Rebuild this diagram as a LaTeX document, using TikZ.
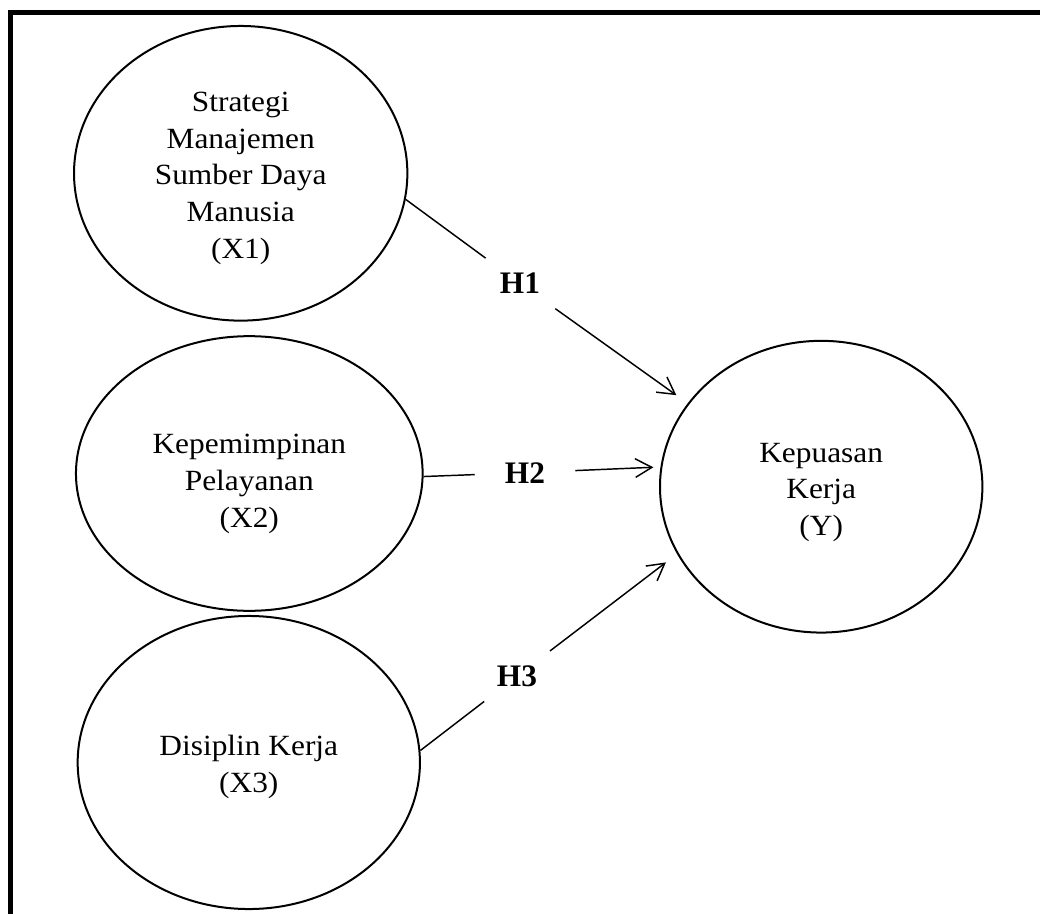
\documentclass[tikz,border=0pt]{standalone}
\usepackage{fontspec}
\setmainfont{Liberation Serif}[FakeStretch=1.07]
\newfontfamily\hypfont{Liberation Serif}
\usepackage{tikz}
\usetikzlibrary{shapes.geometric}
\usetikzlibrary{arrows.meta}

\begin{document}
\begin{tikzpicture}[x=0.75pt, y=-0.75pt,
    var/.style={draw=black, line width=1.5pt, ellipse, inner sep=0pt, align=center,
      font=\fontsize{22}{27.5}\selectfont},
    hyp/.style={inner sep=0pt, minimum width=75pt, minimum height=37.5pt,
      font=\hypfont\bfseries\fontsize{23.5}{28}\selectfont},
    link/.style={black, line width=1.1pt},
    linkarrow/.style={link, -{Straight Barb[length=12.5pt, width=14pt]}}]
                  \useasboundingbox (0,0) rectangle (1040,914);

                  % Outer frame (only top and left edges show)
                  \draw[black, line width=3.75pt, line join=miter] (10.8,920) -- (10.8,12.5) -- (1045,12.5);

                  % Variables (the rule pushes the text a little down)
                  \node[var, minimum width=250pt, minimum height=221pt] (x1) at (240.7,173.3) {\rule{0pt}{22pt}Strategi\\Manajemen\\Sumber Daya\\Manusia\\(X1)};
                  \node[var, minimum width=260pt, minimum height=206pt] (x2) at (249.3,473.5) {\rule{0pt}{30pt}Kepemimpinan\\Pelayanan\\(X2)};
                  \node[var, minimum width=256.7pt, minimum height=219.8pt] (x3) at (248.8,762.5) {\rule{0pt}{22pt}Disiplin Kerja\\(X3)};
                  \node[var, minimum width=241.8pt, minimum height=218.8pt] (kep) at (821.2,486.7) {\rule{0pt}{23pt}Kepuasan\\Kerja\\(Y)};

                  % Hypotheses
                  \node[hyp] (h1) at (520,283.4) {H1};
                  \node[hyp] (h2) at (525,472.7) {H2};
                  \node[hyp] (h3) at (517,676.2) {H3};

                  % Paths, broken at the labels
                  \foreach \src/\lab/\ang/\gap in {x1.-9/h1/148.2/10.5pt, x2.-1/h2/173.3/5.3pt, x3.4/h3/205.3/10.5pt}
                  {
                    \draw[link] (\src) -- (\lab);
                    \draw[linkarrow, shorten >=\gap] (\lab) -- (kep.\ang);
                  }
              \end{tikzpicture}
\end{document}
